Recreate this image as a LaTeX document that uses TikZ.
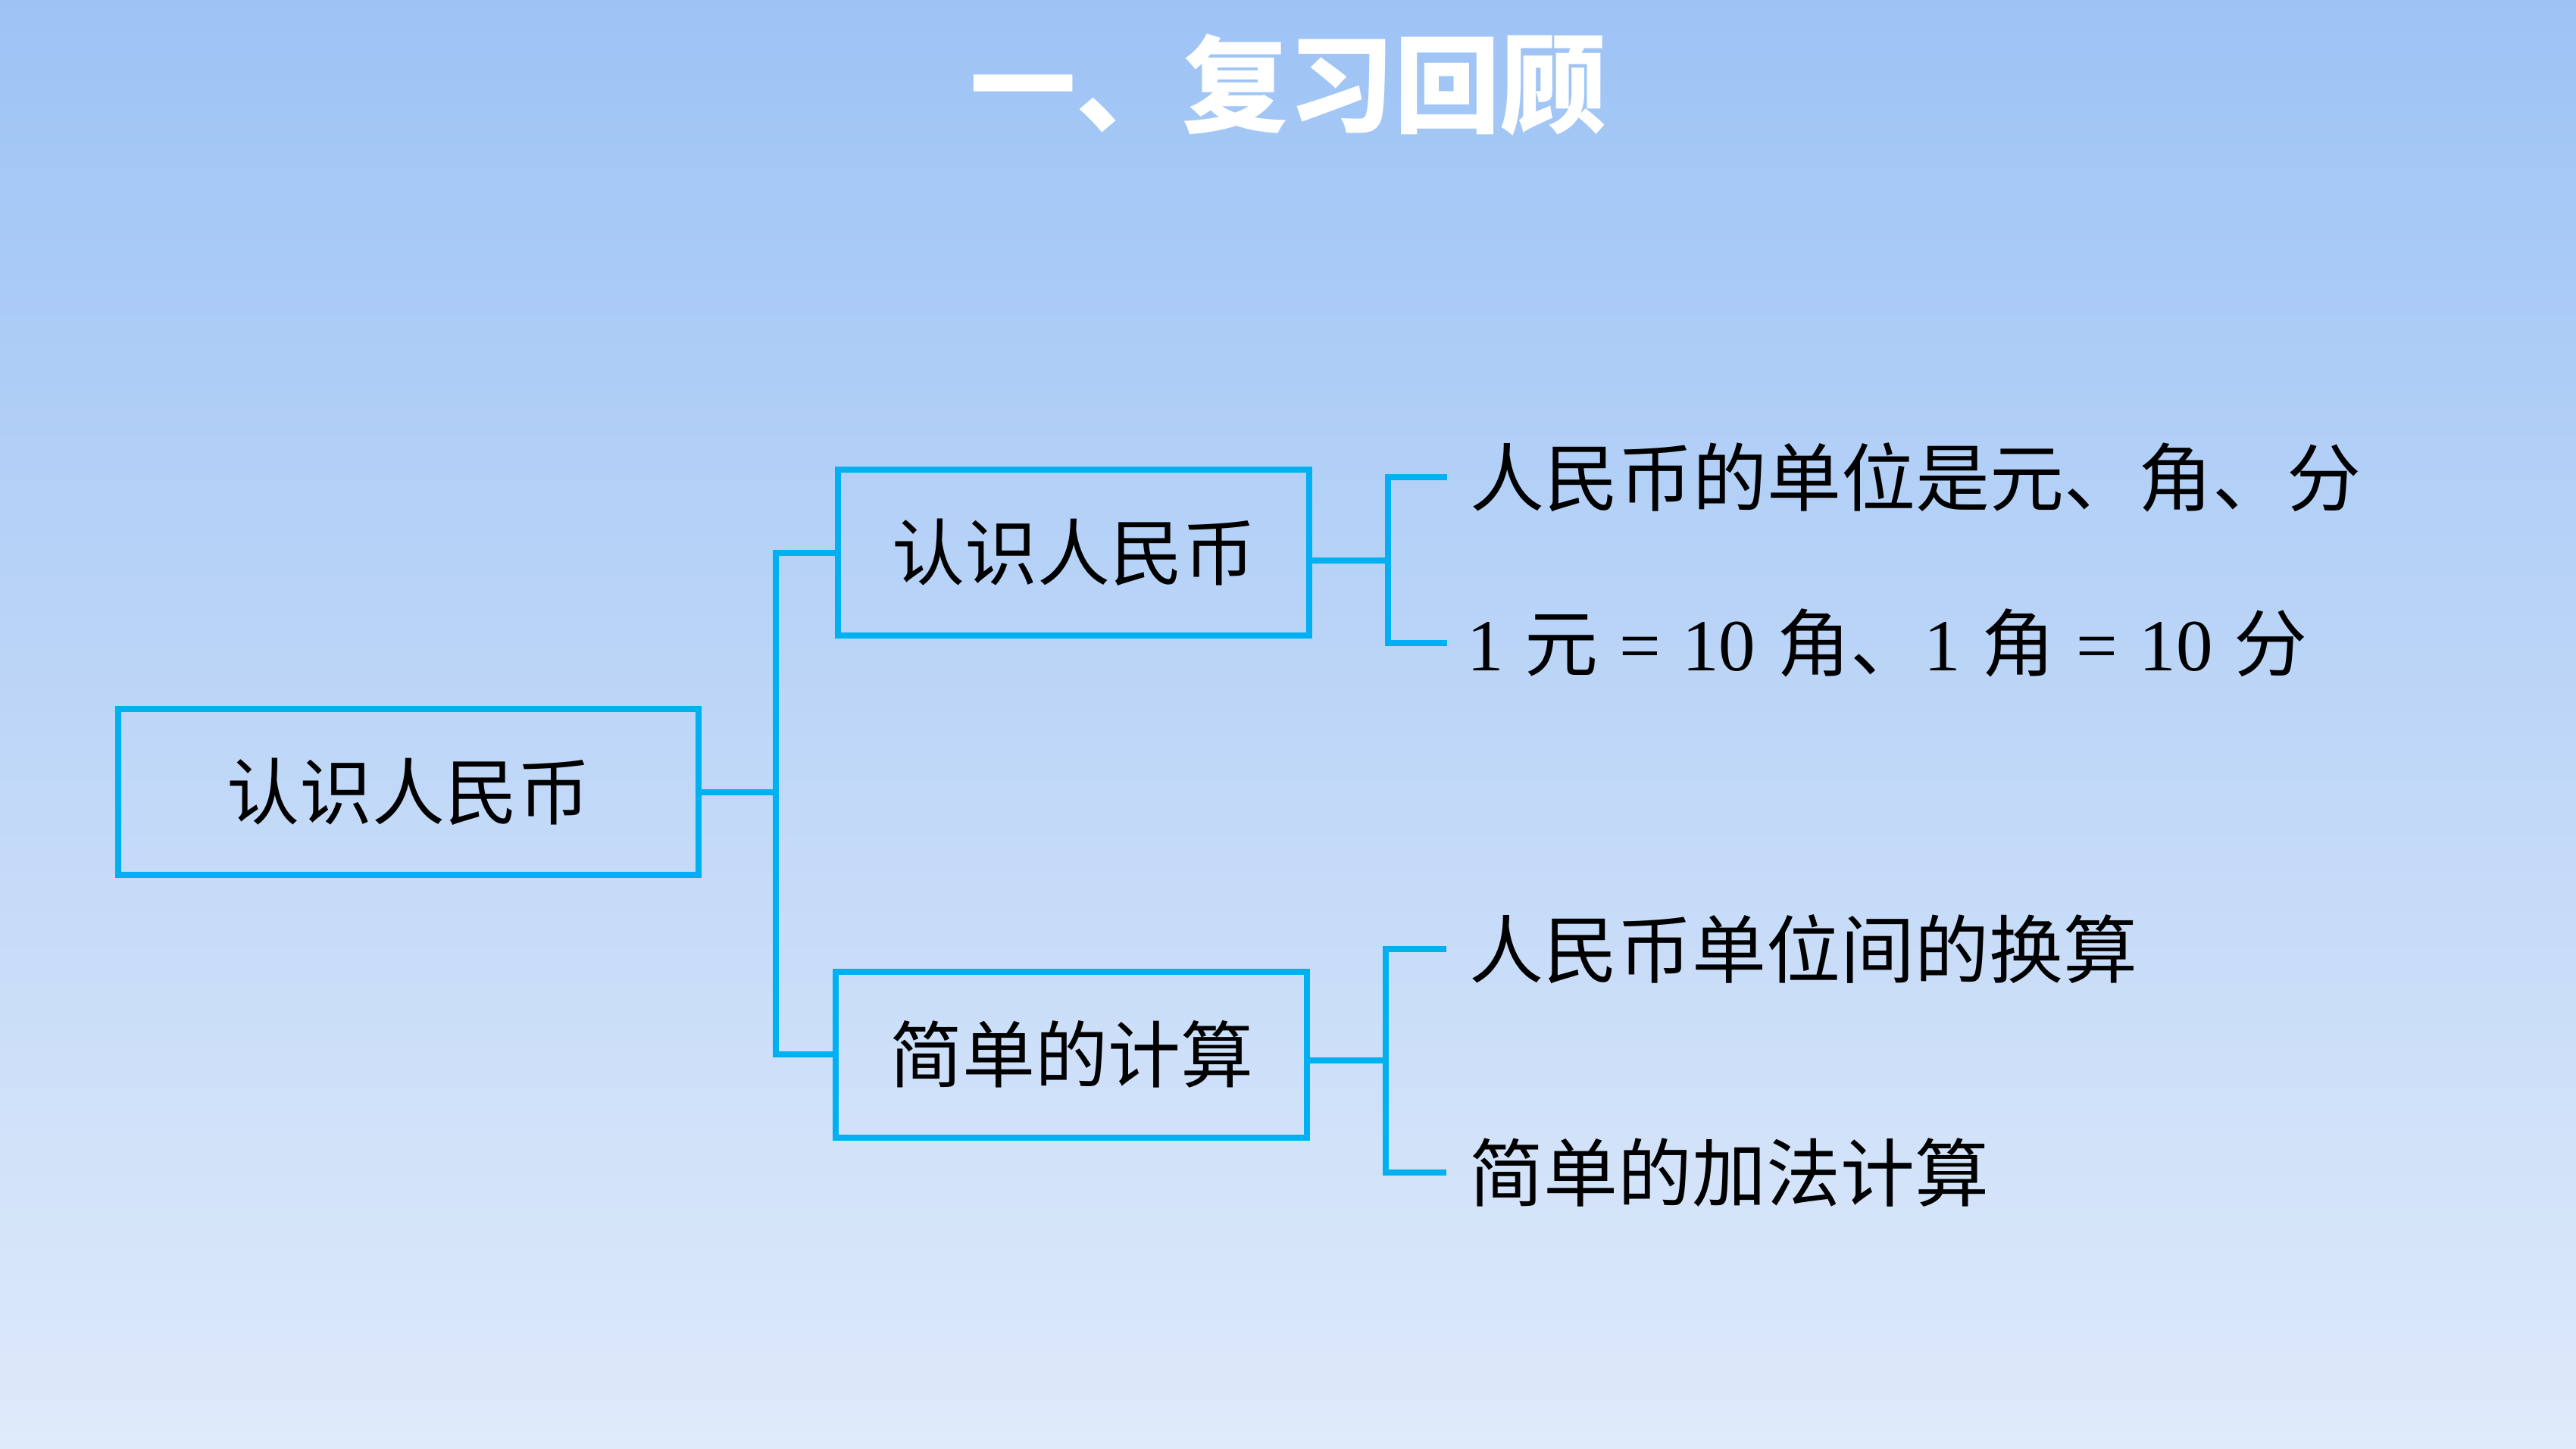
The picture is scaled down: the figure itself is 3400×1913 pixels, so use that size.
\documentclass[tikz,border=0pt]{standalone}
\usepackage{fontspec}
\setmainfont{Liberation Serif}
\newfontfamily\cjk{Noto Sans CJK SC}
\newcommand\gp{\hspace{28pt}}
\definecolor{lineblue}{RGB}{0,176,240}
\definecolor{bgtop}{RGB}{157,195,245}
\definecolor{bgbot}{RGB}{223,234,250}
\begin{document}
\begin{tikzpicture}[x=1pt,y=-1pt,
  box/.style={draw=lineblue,line width=8pt,inner sep=0pt,minimum width=622pt,minimum height=219pt,font=\cjk\fontsize{96}{100}\selectfont},
  link/.style={draw=lineblue,line width=8pt},
  leaf/.style={anchor=west,inner ysep=0pt,inner xsep=30pt,font=\cjk\fontsize{98}{100}\selectfont},
  numleaf/.style={anchor=west,inner ysep=0pt,inner xsep=26pt,font=\rmfamily\fontsize{97}{100}\selectfont}]
\useasboundingbox (0,0) rectangle (3400,1913);
\shade[top color=bgtop,bottom color=bgbot] (0,0) rectangle (3400,1913);
% title
\node[text=white,font=\cjk\bfseries\fontsize{140}{142}\selectfont] (title) at (1700,112) {一、复习回顾};
% boxes
\node[box,minimum width=766pt] (root) at (539,1045.5) {认识人民币};
\node[box] (b1) at (1417,729.5) {认识人民币};
\node[box] (b2) at (1414,1392) {简单的计算};
% leaves
\node[leaf] (l1) at (1910,630) {人民币的单位是元、角、分};
\node[numleaf] (l2) at (1910,849) {1\gp{\cjk 元}\gp=\gp10\gp{\cjk 角、}1\gp{\cjk 角}\gp=\gp10\gp{\cjk 分}};
\node[leaf] (l3) at (1909,1253) {人民币单位间的换算};
\node[leaf] (l4) at (1909,1548) {简单的加法计算};
% junctions
\coordinate (j0) at (1024,1045.5);
\coordinate (j1) at (1832,740);
\coordinate (j2) at (1829,1400);
% connectors
\draw[link] (root.east) -- (j0);
\draw[link] (b1.west) -| (j0) |- (b2.west);
\draw[link] ([yshift=-10.5pt]b1.east) -- (j1);
\draw[link] (l1.west) -| (j1) |- (l2.west);
\draw[link] ([yshift=-8pt]b2.east) -- (j2);
\draw[link] (l3.west) -| (j2) |- (l4.west);
\end{tikzpicture}
\end{document}
